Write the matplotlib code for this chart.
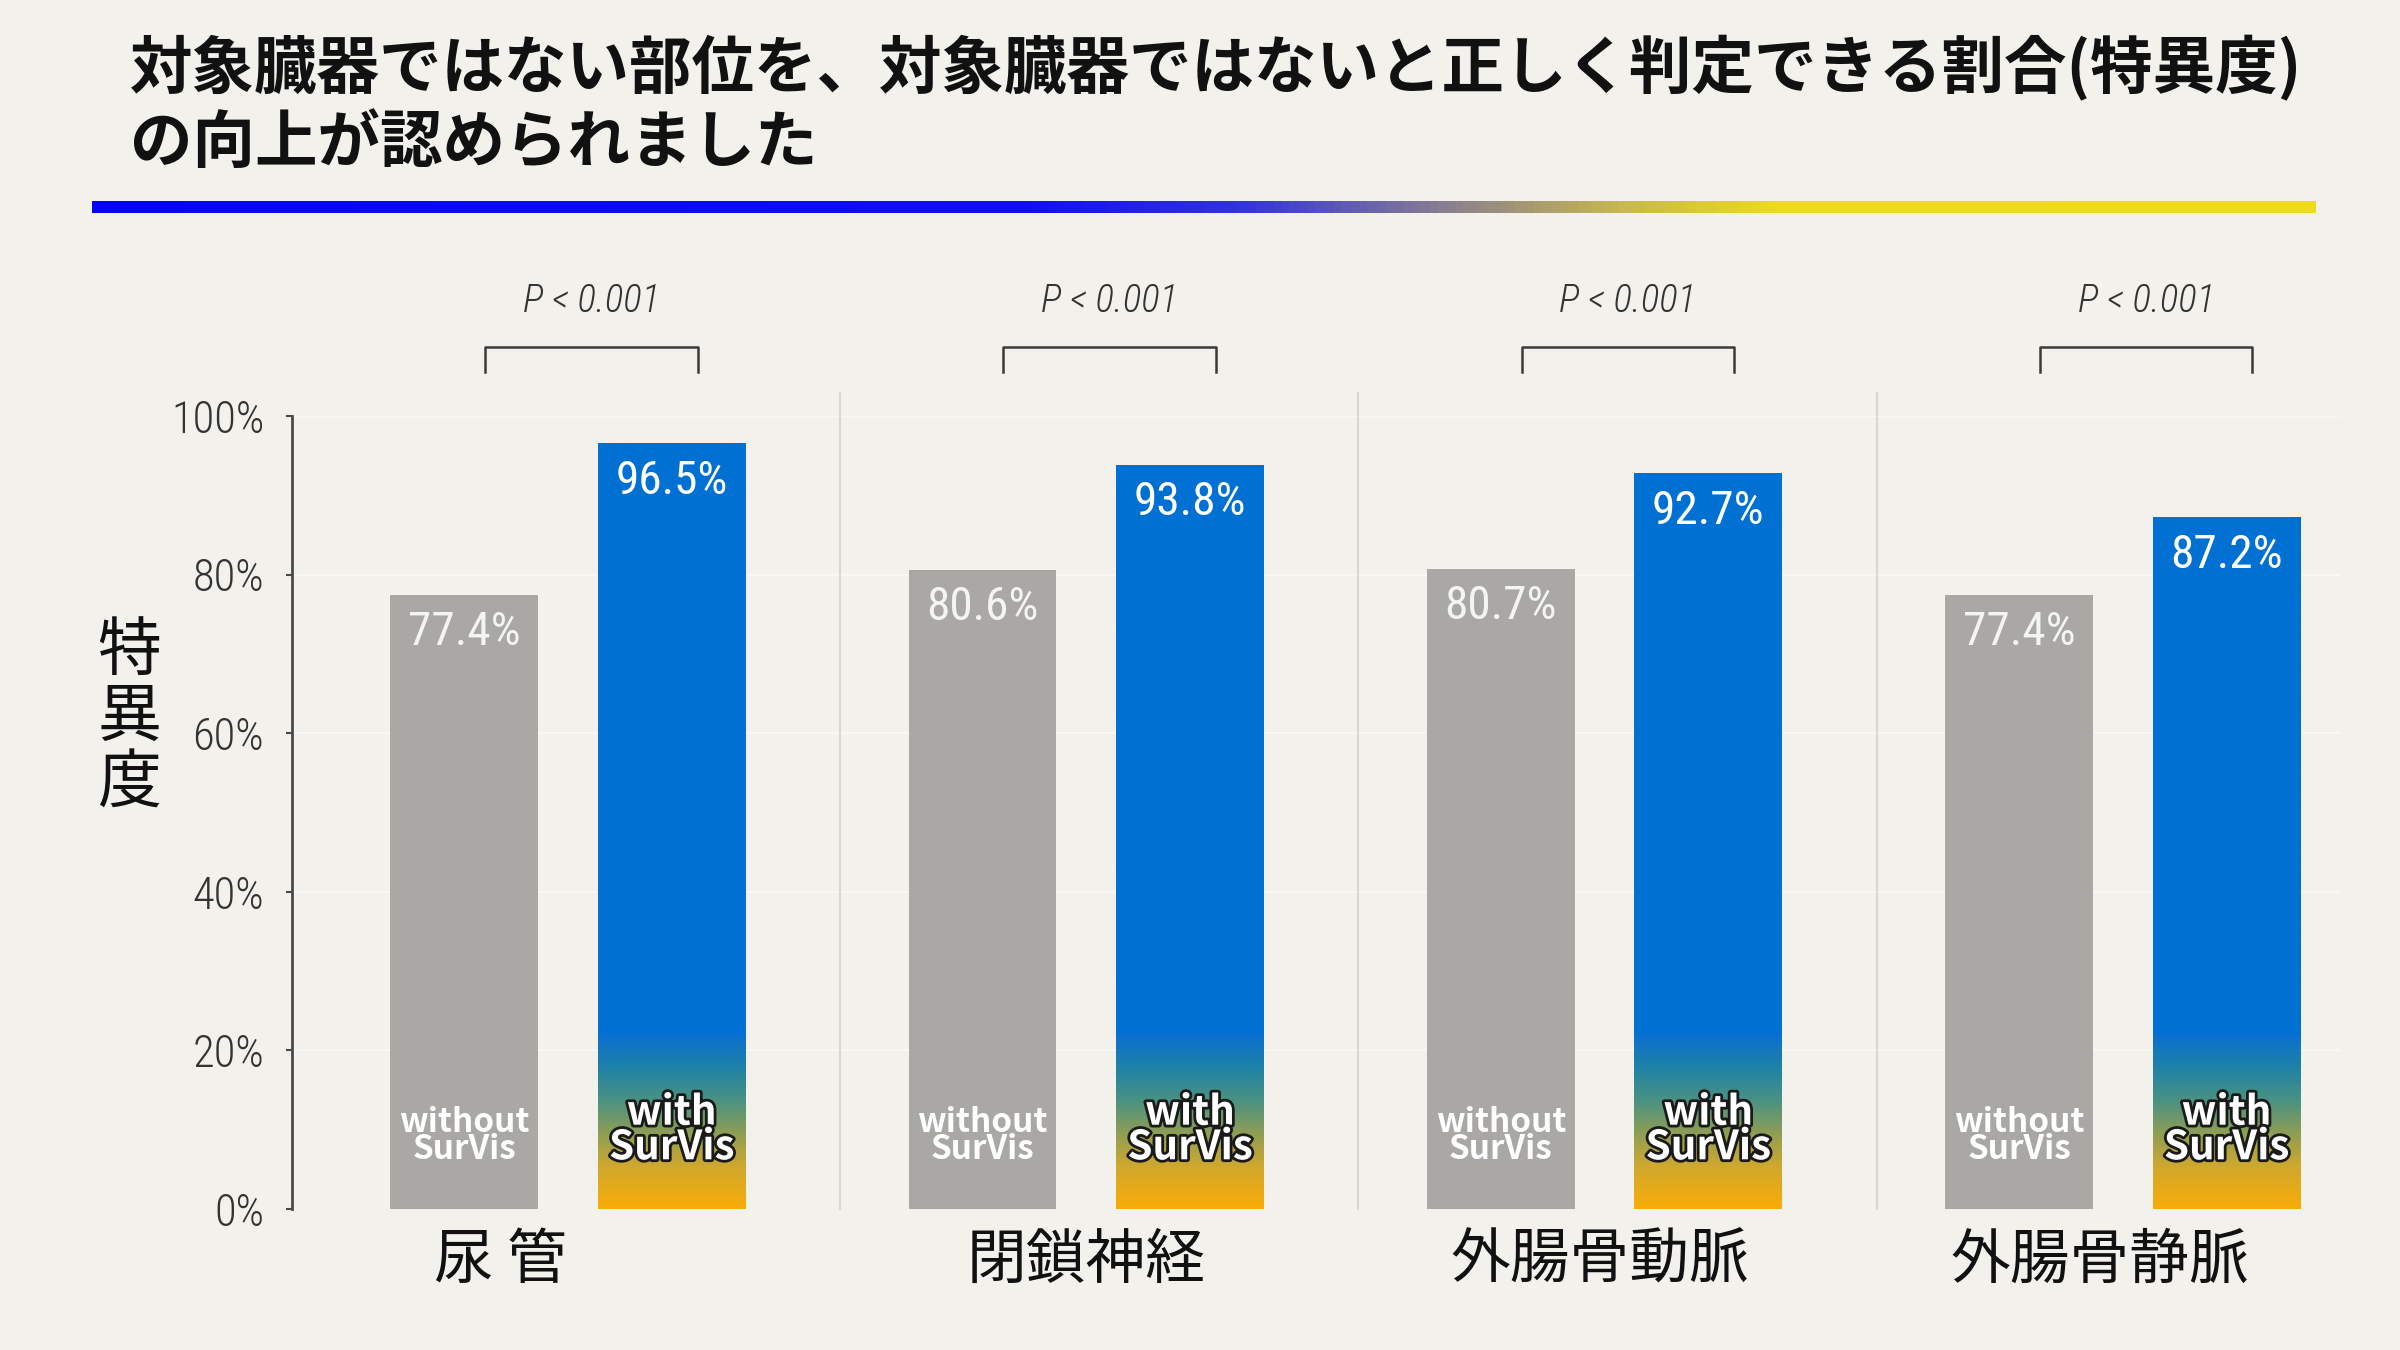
import matplotlib
matplotlib.use('Agg')
import matplotlib.pyplot as plt
import matplotlib.patheffects as pe
from matplotlib import font_manager
from matplotlib.colors import LinearSegmentedColormap
import numpy as np

# データ
organs = ['尿 管', '閉鎖神経', '外腸骨動脈', '外腸骨静脈']
without_survis = [77.4, 80.6, 80.7, 77.4]
with_survis = [96.5, 93.8, 92.7, 87.2]
p_labels = ['P < 0.001', 'P < 0.001', 'P < 0.001', 'P < 0.001']
y_ticks = [0, 20, 40, 60, 80, 100]
title_lines = ['対象臓器ではない部位を、対象臓器ではないと正しく判定できる割合(特異度)',
               'の向上が認められました']
y_label = '特異度'

# フォント
JP = 'Noto Sans CJK JP'
names = {f.name for f in font_manager.fontManager.ttflist}
COND = next((n for n in ['Roboto Condensed', 'Liberation Sans Narrow', 'DejaVu Sans']
             if n in names), 'DejaVu Sans')
COND_STRETCH = 'condensed' if COND == 'DejaVu Sans' else 'normal'

BG = '#F2F1EC'
W, H = 2400, 1350

fig = plt.figure(figsize=(24, 13.5), dpi=100, facecolor=BG)

# タイトル
fig.text(130 / W, 1 - 68 / H, title_lines[0], fontsize=45, fontweight='bold',
         family=JP, color='#111111', ha='left', va='center')
fig.text(130 / W, 1 - 143 / H, title_lines[1], fontsize=45, fontweight='bold',
         family=JP, color='#111111', ha='left', va='center')

# グラデーションの線
gax = fig.add_axes([92 / W, 1 - 213 / H, (2316 - 92) / W, 12 / H])
gax.axis('off')
line_cmap = LinearSegmentedColormap.from_list('line', [
    (0.0, '#0505F5'), (0.42, '#1010F0'), (0.52, '#3535D8'), (0.61, '#8A8090'),
    (0.69, '#C8B850'), (0.76, '#EEDA20'), (1.0, '#F0DA20')])
gax.imshow(np.linspace(0, 1, 600)[None, :], cmap=line_cmap, aspect='auto',
           extent=(0, 1, 0, 1))

# メインの軸
ax = fig.add_axes([292 / W, (H - 1209) / H, (2340 - 292) / W, (1209 - 416) / H])
ax.set_facecolor('none')
xmin, xmax = -0.5325, 3.419

x = np.arange(len(organs))
off, bw = 0.2, 0.285

for t in y_ticks[1:]:
    ax.axhline(t, color='white', lw=1.5, alpha=0.45, zorder=0.5)

ax.bar(x - off, without_survis, width=bw, color='#AAA8A5', zorder=2)
blue_bars = ax.bar(x + off, with_survis, width=bw, color='#0070D3', zorder=2)

# 青い棒の下部グラデーション（0〜22%）
bar_cmap = LinearSegmentedColormap.from_list('bar', [
    (0.0, '#FAAC08'), (0.24, '#CFA82E'), (0.43, '#8E9E55'),
    (0.62, '#4A9282'), (0.81, '#1F82A6'), (1.0, '#0A6FD2')])
for b in blue_bars:
    h = b.get_height()
    yy = np.linspace(0, h, 500)
    img = bar_cmap(np.clip(yy / 22.0, 0, 1))[:, None, :]
    img[yy > 22.0, 0, :3] = np.array([0, 112, 211]) / 255
    ax.imshow(img, origin='lower', aspect='auto', zorder=2.5,
              extent=(b.get_x(), b.get_x() + b.get_width(), 0, h))

# 数値ラベル
for xi, v in zip(x, without_survis):
    ax.text(xi - off, v - 4.7, f'{v}%', ha='center', va='center', fontsize=34,
            family=COND, stretch=COND_STRETCH, color='#F4F4F4', zorder=4)
for xi, v in zip(x, with_survis):
    ax.text(xi + off, v - 4.7, f'{v}%', ha='center', va='center', fontsize=34,
            family=COND, stretch=COND_STRETCH, color='white', zorder=4)

# 棒の中のラベル
for xi in x:
    ax.text(xi - off, 9.2, 'without\nSurVis', ha='center', va='center', ma='center',
            fontsize=24, fontweight='bold', family=JP, color='white',
            linespacing=0.8, zorder=4)
    ax.text(xi + off, 9.9, 'with\nSurVis', ha='center', va='center', ma='center',
            fontsize=29, fontweight='bold', family=JP, color='white',
            linespacing=0.8, zorder=4,
            path_effects=[pe.withStroke(linewidth=4, foreground='#1a1a1a')])

# 有意差の括弧
for xi, p in zip(x, p_labels):
    xl, xr = xi - off + 0.04, xi + off + 0.05
    ax.plot([xl, xl, xr, xr], [105.5, 108.7, 108.7, 105.5], color='#3a3a3a',
            lw=1.8, clip_on=False, zorder=3)
    ax.text((xl + xr) / 2, 114.4, p, ha='center', va='center', fontsize=28,
            style='italic', family=COND, stretch=COND_STRETCH, color='#333333',
            fontweight='light', clip_on=False)

# グループの区切り線
for i in range(len(organs) - 1):
    ax.plot([i + 0.525] * 2, [0, 102.9], color='#D9D8D4', lw=1.5,
            clip_on=False, zorder=1)

# カテゴリ名
label_shift = [-0.13, 0.0, -0.01, -0.045]
for xi, name, s in zip(x, organs, label_shift):
    ax.text(xi + s, -6.6, name, ha='center', va='center', fontsize=43,
            family=JP, color='#111111', clip_on=False)

# 軸
ax.set_xlim(xmin, xmax)
ax.set_ylim(0, 100)
ax.set_xticks([])
ax.set_yticks(y_ticks)
ax.set_yticklabels([f'{t}%' for t in y_ticks])
for lbl in ax.get_yticklabels():
    lbl.set_fontfamily(COND)
    lbl.set_stretch(COND_STRETCH)
    lbl.set_fontweight('light')
ax.tick_params(axis='y', length=4, width=1.5, color='#4a4a4a', pad=16,
               labelsize=32, labelcolor='#333333')
for s in ['top', 'right', 'bottom']:
    ax.spines[s].set_visible(False)
ax.spines['left'].set_color('#4a4a4a')
ax.spines['left'].set_linewidth(2)

fig.text(129 / W, 1 - 718 / H, '\n'.join(y_label), fontsize=46, family=JP,
         color='#111111', ha='center', va='center', linespacing=1.0)

fig.savefig('out.png', dpi=100, facecolor=BG)
